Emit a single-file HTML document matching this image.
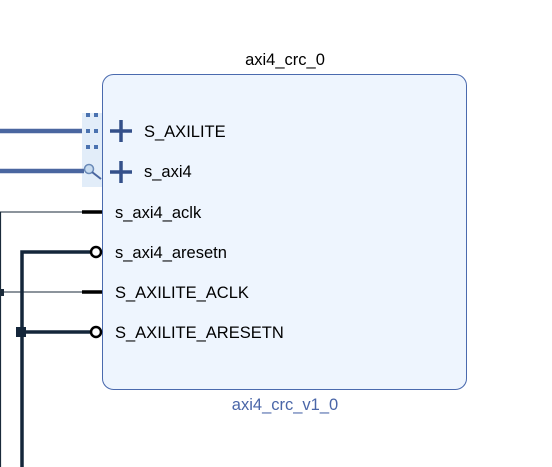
<!DOCTYPE html>
<html><head><style>
body{margin:0;width:552px;height:467px;background:#fff;overflow:hidden;font-family:"Liberation Sans",sans-serif}
</style></head><body>
<svg width="552" height="467" xmlns="http://www.w3.org/2000/svg" style="position:absolute;left:0;top:0">
<text x="285" y="65" font-size="16.5" text-anchor="middle" fill="#000" font-family="Liberation Sans">axi4_crc_0</text>
<rect x="102.5" y="74.5" width="364" height="315" rx="11" fill="#eef5fe" stroke="#4a6aae" stroke-width="1"/>
<text x="285" y="410" font-size="16.5" text-anchor="middle" fill="#4a66a8" font-family="Liberation Sans">axi4_crc_v1_0</text>
<rect x="82" y="113" width="20" height="74" fill="#e2edf9"/>
<g fill="#4a72b0"><rect x="86" y="113" width="4" height="4"/><rect x="94" y="113" width="4" height="4"/><rect x="86" y="129" width="4" height="4"/><rect x="94" y="129" width="4" height="4"/><rect x="86" y="145" width="4" height="4"/><rect x="94" y="145" width="4" height="4"/></g>
<line x1="0" y1="131" x2="82" y2="131" stroke="#4a66a0" stroke-width="4.5"/>
<line x1="0" y1="171" x2="84" y2="171" stroke="#4a66a0" stroke-width="4.5"/>
<circle cx="89" cy="169" r="4.5" fill="#c8dcf0" stroke="#6a8ab8" stroke-width="1.5"/>
<line x1="92" y1="172" x2="101" y2="179" stroke="#4a66a0" stroke-width="2"/>
<g stroke="#34508a" stroke-width="3.5"><line x1="110" y1="131" x2="132" y2="131"/><line x1="121" y1="120" x2="121" y2="142"/><line x1="110" y1="172" x2="132" y2="172"/><line x1="121" y1="161" x2="121" y2="183"/></g>
<line x1="0.5" y1="212" x2="0.5" y2="467" stroke="#1a2a3a" stroke-width="1.2"/>
<line x1="0" y1="212" x2="82" y2="212" stroke="#1a2a3a" stroke-width="1"/>
<line x1="82" y1="212" x2="102" y2="212" stroke="#000" stroke-width="3.5"/>
<line x1="0" y1="292" x2="82" y2="292" stroke="#1a2a3a" stroke-width="1"/>
<line x1="82" y1="292" x2="102" y2="292" stroke="#000" stroke-width="3.5"/>
<rect x="0" y="289" width="4" height="7" fill="#1a2a3a"/>
<path d="M22 467 V252 H91" fill="none" stroke="#14263a" stroke-width="3.5"/>
<line x1="22" y1="332" x2="91" y2="332" stroke="#14263a" stroke-width="3.5"/>
<rect x="16" y="327" width="10" height="10" fill="#14263a"/>
<circle cx="96" cy="252" r="5" fill="#fff" stroke="#000" stroke-width="2.5"/>
<circle cx="96" cy="332" r="5" fill="#fff" stroke="#000" stroke-width="2.5"/>
<g font-size="16.5" fill="#000" font-family="Liberation Sans">
<text x="144" y="137">S_AXILITE</text>
<text x="144" y="177">s_axi4</text>
<text x="115" y="218">s_axi4_aclk</text>
<text x="115" y="258">s_axi4_aresetn</text>
<text x="115" y="298">S_AXILITE_ACLK</text>
<text x="115" y="338">S_AXILITE_ARESETN</text>
</g>
</svg>
</body></html>
